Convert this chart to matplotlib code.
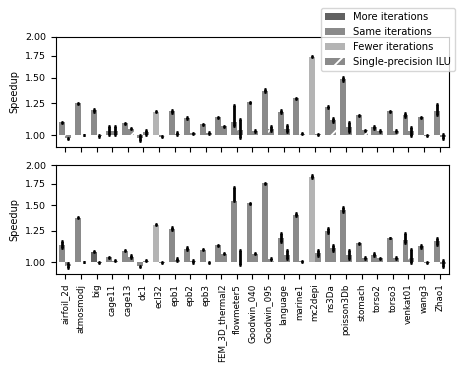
import numpy as np
import matplotlib
matplotlib.use('Agg')
import matplotlib.pyplot as plt
from matplotlib.patches import Patch
from matplotlib.ticker import FormatStrFormatter, NullLocator

plt.rcParams['font.size'] = 6.5
plt.rcParams['hatch.color'] = 'white'
plt.rcParams['hatch.linewidth'] = 1.3

matrices = ['airfoil_2d', 'atmosmodj', 'big', 'cage11', 'cage13', 'dc1', 'ecl32', 'epb1',
            'epb2', 'epb3', 'FEM_3D_thermal2', 'flowmeter5', 'Goodwin_040', 'Goodwin_095',
            'language', 'marine1', 'mc2depi', 'ns3Da', 'poisson3Db', 'stomach', 'torso2',
            'torso3', 'venkat01', 'wang3', 'Zhao1']

# categories: 0 = more iterations, 1 = same, 2 = fewer
# top panel
top_val = [1.094, 1.253, 1.19, 1.03, 1.088, 0.98, 1.18, 1.184, 1.13, 1.078, 1.133, 1.10, 1.262,
           1.367, 1.178, 1.295, 1.737, 1.221, 1.484, 1.151, 1.056, 1.184, 1.151, 1.133, 1.184]
top_lo = [0.006, 0.004, 0.012, 0.03, 0.004, 0.02, 0.004, 0.012, 0.006, 0.004, 0.004, 0.03, 0.004,
          0.015, 0.012, 0.004, 0.006, 0.006, 0.015, 0.004, 0.012, 0.004, 0.015, 0.005, 0.03]
top_hi = [0.006, 0.004, 0.012, 0.04, 0.004, 0.02, 0.004, 0.012, 0.006, 0.004, 0.004, 0.14, 0.004,
          0.02, 0.012, 0.004, 0.006, 0.006, 0.02, 0.004, 0.012, 0.004, 0.02, 0.005, 0.06]
top_cat = [1, 1, 1, 1, 1, 1, 2, 1, 1, 1, 1, 1, 1, 1, 1, 1, 2, 1, 1, 1, 1, 1, 1, 1, 1]

top_sp_val = [0.978, 1.002, 0.995, 1.03, 1.048, 1.02, 0.99, 1.01, 1.012, 1.016, 1.065, 1.04, 1.029,
              1.048, 1.048, 1.01, 1.005, 1.111, 1.06, 1.036, 1.031, 1.03, 1.03, 0.996, 0.99]
top_sp_lo = [0.005, 0.002, 0.005, 0.03, 0.004, 0.02, 0.004, 0.01, 0.005, 0.005, 0.004, 0.06, 0.006,
             0.015, 0.025, 0.004, 0.005, 0.015, 0.035, 0.004, 0.005, 0.004, 0.035, 0.003, 0.02]
top_sp_hi = [0.005, 0.002, 0.005, 0.04, 0.004, 0.02, 0.004, 0.01, 0.005, 0.005, 0.004, 0.08, 0.006,
             0.015, 0.025, 0.004, 0.005, 0.015, 0.035, 0.004, 0.005, 0.004, 0.03, 0.003, 0.02]

# bottom panel
bot_val = [1.128, 1.376, 1.079, 1.036, 1.086, 0.972, 1.306, 1.27, 1.102, 1.092, 1.128, 1.549, 1.524,
           1.756, 1.189, 1.403, 1.84, 1.252, 1.453, 1.147, 1.056, 1.189, 1.175, 1.12, 1.16]
bot_lo = [0.02, 0.004, 0.004, 0.004, 0.004, 0.005, 0.004, 0.015, 0.012, 0.004, 0.005, 0.005, 0.004,
          0.005, 0.03, 0.015, 0.02, 0.02, 0.025, 0.004, 0.012, 0.004, 0.03, 0.012, 0.025]
bot_hi = [0.04, 0.004, 0.004, 0.004, 0.004, 0.005, 0.004, 0.02, 0.012, 0.004, 0.005, 0.16, 0.004,
          0.005, 0.04, 0.02, 0.025, 0.025, 0.03, 0.004, 0.012, 0.004, 0.06, 0.012, 0.03]
bot_cat = [1, 1, 0, 1, 1, 1, 2, 1, 1, 1, 1, 1, 1, 1, 1, 1, 2, 1, 1, 1, 1, 1, 1, 1, 1]

bot_sp_val = [0.977, 1.003, 0.998, 1.012, 1.041, 1.012, 0.997, 1.02, 1.008, 1.0, 1.064, 1.0, 1.064,
              1.024, 1.056, 1.007, 1.069, 1.107, 1.056, 1.031, 1.03, 1.031, 1.03, 0.996, 0.99]
bot_sp_lo = [0.015, 0.002, 0.002, 0.004, 0.012, 0.005, 0.002, 0.012, 0.01, 0.002, 0.004, 0.016, 0.004,
             0.005, 0.035, 0.004, 0.025, 0.025, 0.035, 0.004, 0.004, 0.004, 0.035, 0.003, 0.025]
bot_sp_hi = [0.015, 0.002, 0.002, 0.004, 0.012, 0.005, 0.002, 0.012, 0.01, 0.002, 0.004, 0.088, 0.004,
             0.005, 0.035, 0.004, 0.025, 0.025, 0.035, 0.004, 0.004, 0.004, 0.07, 0.003, 0.025]

colors = ['#616161', '#8a8a8a', '#b4b4b4']
labels = ['More iterations', 'Same iterations', 'Fewer iterations', 'Single-precision ILU']

fig = plt.figure(figsize=(4.65, 3.68), dpi=100)
ax1 = fig.add_axes([0.1204, 0.6005, 0.8452, 0.2998])
ax2 = fig.add_axes([0.1204, 0.2554, 0.8452, 0.2962])

x = np.arange(len(matrices))
w = 0.38
ekw = dict(ecolor='black', elinewidth=2, capsize=1, capthick=2)

panels = [(ax1, top_val, top_lo, top_hi, top_cat, top_sp_val, top_sp_lo, top_sp_hi),
          (ax2, bot_val, bot_lo, bot_hi, bot_cat, bot_sp_val, bot_sp_lo, bot_sp_hi)]

for ax, v, lo, hi, cat, sv, slo, shi in panels:
    v = np.array(v)
    sv = np.array(sv)
    ax.bar(x - w / 2, v - 1, w, bottom=1, color=[colors[c] for c in cat],
           yerr=[lo, hi], error_kw=ekw)
    ax.bar(x + w / 2, sv - 1, w, bottom=1, color=colors[1], hatch='/',
           edgecolor='white', linewidth=0, yerr=[slo, shi], error_kw=ekw)
    ax.set_yscale('log')
    ax.set_ylim(0.92, 2.0)
    ax.set_yticks([1.0, 1.25, 1.5, 1.75, 2.0])
    ax.yaxis.set_major_formatter(FormatStrFormatter('%.2f'))
    ax.yaxis.set_minor_locator(NullLocator())
    ax.tick_params(axis='y', labelsize=6.8)
    ax.set_xlim(-0.6, len(matrices) - 0.4)
    ax.set_xticks(x)
    ax.set_ylabel('Speedup', fontsize=7)

ax1.set_xticklabels([])
ax2.set_xticklabels(matrices, rotation=90, fontsize=6.3)

handles = [Patch(facecolor=colors[0]), Patch(facecolor=colors[1]), Patch(facecolor=colors[2]),
           Patch(facecolor=colors[1], hatch='/', edgecolor='white', linewidth=0)]
fig.legend(handles, labels, loc='upper right', bbox_to_anchor=(0.979, 0.979), borderaxespad=0,
           fontsize=7.2)

fig.savefig('out.png', dpi=100)
